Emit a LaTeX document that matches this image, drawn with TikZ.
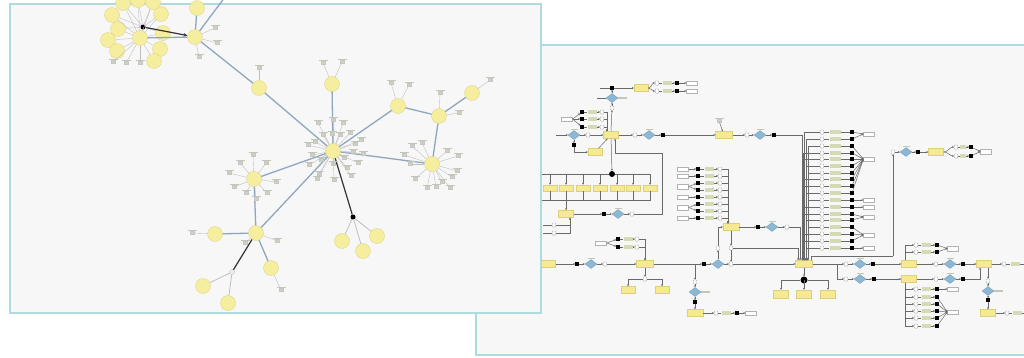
\documentclass[tikz,border=0pt]{standalone}
\usetikzlibrary{shapes.geometric,arrows.meta}
\definecolor{panelbg}{HTML}{F7F7F7}
\definecolor{panelbd}{HTML}{AEDBE0}
\definecolor{ylw}{HTML}{F6EE9F}
\definecolor{ylwr}{HTML}{F5EA92}
\definecolor{ylwd}{HTML}{DDD07A}
\definecolor{edgeb}{HTML}{8EA7BF}
\definecolor{tagc}{HTML}{CDD2BE}
\definecolor{txtc}{HTML}{C3C8B6}
\definecolor{ftagc}{HTML}{D3DBB5}
\definecolor{diac}{HTML}{8DB7D2}
\definecolor{diad}{HTML}{6E9DBD}
\definecolor{flow}{HTML}{6A6A6A}
\begin{document}
\begin{tikzpicture}[x=1pt,y=-1pt,
  panel/.style={fill=panelbg, draw=panelbd, line width=2.4pt},
  ycirc/.style={circle, fill=ylw, draw=ylwd, line width=0.3pt, minimum size=15pt, inner sep=0pt},
  txtbar/.style={rectangle, inner sep=0pt, minimum width=9pt, minimum height=1.2pt, fill=txtc},
  tagn/.style={rectangle, fill=tagc, draw=gray!45, line width=0.2pt, minimum width=4pt, minimum height=3pt, inner sep=0pt, label={[txtbar]above:{}}},
  spoke/.style={draw=gray!50, line width=0.4pt},
  ledge/.style={draw=edgeb, line width=1.3pt},
  dedge/.style={draw=black!80, line width=1.2pt},
  bdotn/.style={circle, fill=black, minimum size=5pt, inner sep=0pt},
  gdotn/.style={circle, fill=gray!15, draw=gray!50, line width=0.3pt, minimum size=5pt, inner sep=0pt},
  yrect/.style={rectangle, fill=ylwr, draw=ylwd, line width=0.4pt, minimum width=15pt, minimum height=7pt, inner sep=0pt},
  dia/.style={diamond, fill=diac, draw=diad, line width=0.3pt, minimum width=12pt, minimum height=9pt, inner sep=0pt},
  dl/.style={label={[txtbar,minimum width=7pt]above:{}}},
  dr/.style={label={[txtbar,minimum width=9pt]right:{}}},
  bsq/.style={rectangle, fill=black, minimum size=3.2pt, inner sep=0pt},
  sc/.style={rectangle, rounded corners=0.8pt, fill=white, draw=gray!70, line width=0.3pt, minimum width=3.6pt, minimum height=4.2pt, inner sep=0pt},
  wrect/.style={rectangle, fill=white, draw=gray!60, line width=0.3pt, minimum width=11pt, minimum height=4.5pt, inner sep=0pt},
  ftag/.style={rectangle, fill=ftagc, minimum width=9pt, minimum height=3.5pt, inner sep=0pt},
  fl/.style={draw=flow, line width=0.5pt, -{Stealth[length=2pt,width=2pt]}},
  fln/.style={draw=flow, line width=0.5pt},
]
\useasboundingbox (0,0) rectangle (1024,357);
\fill[white] (0,0) rectangle (1024,357);

% ================= right panel =================
\draw[panel] (476,45) rectangle (1040,355);

% top line
\coordinate (a0) at (556,135);
\node[dia,dl] (dA) at (574,135) {};
\node[sc] (sA) at (588,135) {};
\node[yrect] (A) at (611,135) {};
\node[sc] (sB) at (635,135) {};
\node[dia,dl] (dB) at (649,135) {};
\node[bsq] (bB) at (663,135) {};
\node[yrect,minimum width=17pt] (B) at (724,135) {};
\node[sc] (sC) at (747,135) {};
\node[dia,dl] (dC) at (760,135) {};
\node[bsq] (bC) at (774,135) {};
\node[yrect,minimum width=17pt] (H) at (804,264) {};
\node[tagn] (tgB) at (719,121) {};
\draw[fl] (a0) -- (dA);
\foreach \p/\q in {dA/sA, sA/A, A/sB, sB/dB, dB/bB, bB/B, B/sC, sC/dC, dC/bC} \draw[fl] (\p) -- (\q);
\draw[fl] (bC) -| ([xshift=-2pt]H.north);
\draw[fl] (tgB) -- (B);

% above A
\node[sc] (sT) at (612,108) {};
\node[dia,dr] (dT) at (612,98) {};
\node[bsq] (bT) at (612,88) {};
\node[yrect,minimum width=14pt] (T) at (641,88) {};
\draw[fl] (A.north) -- (sT);
\draw[fl] (sT) -- (dT);
\draw[fl] (dT) -- (bT);
\draw[fl] (bT) -- (T);
\coordinate (tin) at (600,88);
\coordinate (din) at (597,98);
\draw[fln] (tin) -- (bT);
\draw[fln] (din) -- (dT);
\foreach \k/\y in {1/83,2/91} {
  \node[sc] (sT\k) at (657,\y) {};
  \node[ftag] (fT\k) at (667,\y) {};
  \node[bsq] (bT\k) at (677,\y) {};
  \node[wrect] (wT\k) at (692,\y) {};
  \draw[fl] (T.east) to[out=0,in=180] (sT\k);
  \draw[fln] (sT\k) -- (fT\k);
  \draw[fl] (fT\k) -- (bT\k);
  \draw[fl] (bT\k) -- (wT\k);
}

% left of A
\node[wrect] (wA) at (567,119) {};
\foreach \k/\y in {1/112,2/119,3/127} {
  \node[bsq] (bA\k) at (582,\y) {};
  \node[ftag] (fA\k) at (592,\y) {};
  \node[sc] (sA\k) at (602,\y) {};
  \draw[fl] (wA.east) -- (bA\k);
  \draw[fln] (bA\k) -- (fA\k);
  \draw[fl] (fA\k) -- (sA\k);
  \draw[fl] (sA\k) -| ([xshift=-4pt]A.north);
}
\node[bsq] (bA4) at (574,145) {};
\node[yrect,minimum width=14pt] (Ab) at (595,152) {};
\draw[fl] (dA) -- (bA4);
\draw[fl] (bA4) |- (Ab);
\draw[fl] (Ab) -- (A);

% fork / join table
\node[bdotn,minimum size=6pt] (tdot) at (612,174) {};
\draw[fl] (A) -- (tdot);
\coordinate (jbar) at (566,200);
\coordinate (tl1) at (541,174);
\coordinate (tl2) at (541,200);
\foreach \x [count=\k] in {550,566,583,600,617,633,650} {
  \node[yrect,minimum width=14pt,minimum height=6pt] (tb\k) at (\x,188) {};
  \draw[fl] (tdot) -| (tb\k);
  \draw[fln] (tb\k) |- (jbar);
}
\draw[fln] (tl1) -- (tdot);
\draw[fln] (tl2) -- (jbar);
\node[yrect] (R) at (566,214) {};
\draw[fl] (jbar) -- (R);
\node[bsq] (bR) at (604,214) {};
\node[dia,dl] (dR) at (618,214) {};
\node[sc] (sR) at (632,214) {};
\draw[fl] (R) -- (bR);
\draw[fl] (bR) -- (dR);
\draw[fl] (dR) -- (sR);
\coordinate (k2) at (662,153);
\draw[fln] (sR) -| (k2);
\draw[fl] (k2) -| ([xshift=4pt]A.south);
\node[sc] (sRL1) at (554,225) {};
\node[sc] (sRL2) at (554,233) {};
\coordinate (rl1) at (543,225);
\coordinate (rl2) at (543,233);
\draw[fln] (rl1) -- (sRL1);
\draw[fln] (rl2) -- (sRL2);
\draw[fl] (sRL1) -| ([xshift=4pt]R.south);
\draw[fl] (sRL2) -| ([xshift=4pt]R.south);

% main bottom line
\node[yrect] (L1) at (548,264) {};
\node[bsq] (bL1) at (577,264) {};
\node[dia,dl] (dL1) at (591,264) {};
\node[sc] (sL1) at (605,264) {};
\node[yrect,minimum width=17pt] (L2) at (645,264) {};
\node[bsq] (bL2) at (704,264) {};
\node[dia] (dL2) at (718,264) {};
\node[sc] (sL2) at (731,264) {};
\foreach \p/\q in {L1/bL1, bL1/dL1, dL1/sL1, sL1/L2, L2/bL2, bL2/dL2, dL2/sL2, sL2/H} \draw[fl] (\p) -- (\q);

% above L2
\node[wrect] (wL) at (601,243) {};
\foreach \k/\y in {1/239,2/247} {
  \node[bsq] (bU\k) at (618,\y) {};
  \node[ftag] (fU\k) at (628,\y) {};
  \node[sc] (sU\k) at (637,\y) {};
  \draw[fl] (wL.east) -- (bU\k);
  \draw[fln] (bU\k) -- (fU\k);
  \draw[fl] (fU\k) -- (sU\k);
  \draw[fl] (sU\k) -| (L2.north);
}
% below L2
\node[sc] (sLb) at (645,279) {};
\node[yrect,minimum width=14pt] (Lb1) at (628,290) {};
\node[yrect,minimum width=14pt] (Lb2) at (662,290) {};
\draw[fl] (L2) -- (sLb);
\draw[fl] (sLb) -| (Lb1);
\draw[fl] (sLb) -| (Lb2);

% down branch
\coordinate (jd) at (695,264);
\node[sc] (sD) at (695,282) {};
\node[dia,dr] (dD) at (695,292) {};
\node[bsq] (bD) at (695,302) {};
\node[yrect,minimum width=16pt] (D) at (695,313) {};
\node[sc] (sD2) at (716,313) {};
\node[ftag] (fD) at (726,313) {};
\node[bsq] (bD2) at (737,313) {};
\node[wrect] (wD) at (751,313) {};
\draw[fl] (jd) -- (sD);
\foreach \p/\q in {sD/dD, dD/bD, bD/D, D/sD2, fD/bD2, bD2/wD} \draw[fl] (\p) -- (\q);
\draw[fln] (sD2) -- (fD);

% middle node M
\node[yrect,minimum width=16pt] (M) at (731,227) {};
\foreach \y [count=\k] in {169,176,183,190,197,204,211,218} {
  \node[bsq] (bm\k) at (698,\y) {};
  \node[ftag] (fm\k) at (709,\y) {};
  \node[sc] (sm\k) at (720,\y) {};
  \draw[fln] (bm\k) -- (fm\k);
  \draw[fl] (fm\k) -- (sm\k);
  \draw[fl] (sm\k) -| ([xshift=-3pt]M.north);
}
\foreach \n/\y in {1/169,2/176,3/186.5,4/197,5/207.5,6/218} \node[wrect] (wm\n) at (683,\y) {};
\foreach \k/\n in {1/1,2/2,3/3,4/3,5/4,6/5,7/5,8/6} \draw[fl] (wm\n.east) -- (bm\k);
\node[bsq] (bM) at (758,227) {};
\node[dia,dl] (dM) at (772,227) {};
\node[sc] (sM) at (787,227) {};
\draw[fl] (M) -- (bM);
\draw[fl] (bM) -- (dM);
\draw[fl] (dM) -- (sM);
\draw[fl] (sM) -| ([xshift=-4pt]H.north);
\node[sc] (sMd) at (731,248) {};
\draw[fl] (M) -- (sMd);
\draw[fl] (sMd) -- (sL2);
\draw[fl] (sMd) -| ([xshift=-6pt]H.north);
\node[sc] (sMl) at (718,248) {};
\draw[fl] (dL2) -- (sMl);
\draw[fl] (sMl) |- (M.west);

% hub bottom
\node[bdotn,minimum size=7pt] (hdot) at (804,280) {};
\draw[fl] (H) -- (hdot);
\foreach \x [count=\k] in {781,804,828} {
  \node[yrect,minimum width=15pt,minimum height=8pt] (hb\k) at (\x,294) {};
  \draw[fl] (hdot) -| (hb\k);
}

% bundle rows
\foreach \y [count=\i] in {132,139,146,153,159,166,173,179,186,193,200,207,214,220,227,234,241,248} {
  \pgfmathsetmacro\dx{mod(\i,4)*1.6-1.0}
  \node[sc] (bs\i) at (822,\y) {};
  \node[ftag,minimum width=11pt] (bt\i) at (835,\y) {};
  \node[bsq] (bb\i) at (852,\y) {};
  \draw[fl] (bs\i) -| ([xshift=\dx pt]H.north);
  \draw[fln] (bs\i) -- (bt\i);
  \draw[fln] (bt\i) -- (bb\i);
}
\foreach \n/\y in {1/134,2/159,3/200,4/207,5/217,6/235,7/248} \node[wrect] (bw\n) at (869,\y) {};
\foreach \i/\n in {1/1,2/1,3/2,4/2,5/2,6/2,7/2,8/2,9/2,10/2,11/3,12/4,13/5,14/5,15/6,16/6,17/6,18/7} \draw[fl] (bb\i) -- (bw\n.west);

% hub right, upper line
\node[sc] (sR1) at (846,264) {};
\node[dia,dl] (dR1) at (860,264) {};
\node[bsq] (bR1) at (873,264) {};
\node[yrect] (R1) at (909,264) {};
\node[sc] (sR2) at (936,264) {};
\node[dia,dl] (dR2) at (950,264) {};
\node[bsq] (bR2) at (963,264) {};
\node[yrect] (R2) at (984,264) {};
\node[sc] (sR3) at (1004,264) {};
\node[ftag] (fR3) at (1015,264) {};
\coordinate (rEnd) at (1030,264);
\foreach \p/\q in {H/sR1, sR1/dR1, dR1/bR1, bR1/R1, R1/sR2, sR2/dR2, dR2/bR2, bR2/R2, R2/sR3, fR3/rEnd} \draw[fl] (\p) -- (\q);
\draw[fln] (sR3) -- (fR3);

% hub right, lower line
\coordinate (j1) at (837,264);
\node[sc] (sQ1) at (846,279) {};
\node[dia,dl] (dQ1) at (860,279) {};
\node[bsq] (bQ1) at (874,279) {};
\node[yrect] (Q1) at (909,279) {};
\node[sc] (sQ2) at (936,279) {};
\node[dia,dl] (dQ2) at (950,279) {};
\node[bsq] (bQ2) at (963,279) {};
\draw[fl] (j1) |- (sQ1);
\foreach \p/\q in {sQ1/dQ1, dQ1/bQ1, bQ1/Q1, Q1/sQ2, sQ2/dQ2, dQ2/bQ2} \draw[fl] (\p) -- (\q);
\draw[fl] (bQ2) -| ([xshift=-4pt]R2.south);

% above R1
\node[wrect] (wP) at (953,248.5) {};
\foreach \k/\y in {1/245,2/252} {
  \node[sc] (sP\k) at (916,\y) {};
  \node[ftag] (fP\k) at (926,\y) {};
  \node[bsq] (bP\k) at (937,\y) {};
  \draw[fl] ([xshift=-4pt]R1.north) |- (sP\k);
  \draw[fln] (sP\k) -- (fP\k);
  \draw[fl] (fP\k) -- (bP\k);
  \draw[fl] (bP\k) -- (wP.west);
}
% below Q1
\node[wrect] (wG1) at (953,289) {};
\node[wrect] (wG2) at (953,312) {};
\foreach \y [count=\k] in {289,297,304,311,318,326} {
  \node[sc] (sG\k) at (916,\y) {};
  \node[ftag] (fG\k) at (926,\y) {};
  \node[bsq] (bG\k) at (937,\y) {};
  \draw[fl] ([xshift=-4pt]Q1.south) |- (sG\k);
  \draw[fln] (sG\k) -- (fG\k);
  \draw[fl] (fG\k) -- (bG\k);
}
\draw[fl] (bG1) -- (wG1.west);
\foreach \k in {2,...,6} \draw[fl] (bG\k) -- (wG2.west);

% below R2
\node[sc] (sV) at (988,281) {};
\node[dia,dr] (dV) at (988,291) {};
\node[bsq] (bV) at (988,300) {};
\node[yrect] (V) at (988,313) {};
\node[sc] (sV2) at (1007,313) {};
\node[ftag] (fV2) at (1017,313) {};
\coordinate (vEnd) at (1030,313);
\draw[fl] ([xshift=4pt]R2.south) -- (sV);
\foreach \p/\q in {sV/dV, dV/bV, bV/V, V/sV2, fV2/vEnd} \draw[fl] (\p) -- (\q);
\draw[fln] (sV2) -- (fV2);

% top-right branch
\coordinate (jt) at (893,256);
\node[sc] (sTR) at (893,152) {};
\node[dia,dl] (dTR) at (906,152) {};
\node[bsq] (bTR) at (918,152) {};
\node[yrect] (TR) at (936,152) {};
\node[wrect] (wTR) at (986,151.5) {};
\draw[fln] ([xshift=7pt]H.north) |- (jt);
\draw[fl] (jt) -- (sTR);
\foreach \p/\q in {sTR/dTR, dTR/bTR, bTR/TR} \draw[fl] (\p) -- (\q);
\foreach \k/\y in {1/147,2/156} {
  \node[sc] (sTR\k) at (956,\y) {};
  \node[ftag,minimum width=6pt] (fTR\k) at (963,\y) {};
  \node[bsq] (bTR\k) at (971,\y) {};
  \draw[fl] (TR.east) to[out=0,in=180] (sTR\k);
  \draw[fln] (sTR\k) -- (fTR\k);
  \draw[fl] (fTR\k) -- (bTR\k);
  \draw[fl] (bTR\k) -- (wTR.west);
}

% ================= left panel =================
\draw[panel] (10,4) rectangle (541,313);

\node[ycirc] (hub) at (333,151) {};
\node[ycirc] (n0) at (197,8) {};
\node[ycirc] (n1) at (195,37) {};
\node[ycirc] (n2) at (259,88) {};
\node[ycirc] (n3) at (332,84) {};
\node[ycirc] (n4) at (398,106) {};
\node[ycirc] (n5) at (439,116) {};
\node[ycirc] (n6) at (472,93) {};
\node[ycirc] (n7) at (432,164) {};
\node[ycirc] (n8) at (254,179) {};
\node[ycirc] (n9) at (256,233) {};
\node[ycirc] (n10) at (215,234) {};
\node[ycirc] (n11) at (271,268) {};
\node[gdotn] (gd) at (232,272) {};
\node[ycirc] (n12) at (203,286) {};
\node[ycirc] (n13) at (228,303) {};
\node[bdotn] (bd) at (353,217) {};
\node[ycirc] (n14) at (342,241) {};
\node[ycirc] (n15) at (363,251) {};
\node[ycirc] (n16) at (377,236) {};

% cluster
\foreach \x/\y [count=\k] in {112/15,118/29,108/40,117/51,161/14,163/33,160/49,154/61,123/3,153/2,138/0} \node[ycirc] (cl\k) at (\x,\y) {};
\node[ycirc] (cc) at (140,38) {};
\node[bdotn] (cd) at (143,27) {};
\foreach \k in {1,...,11} \draw[spoke] (cc) -- (cl\k);
\foreach \k in {1,2,5,6,9,10,11} \draw[spoke] (cd) -- (cl\k);
\draw[spoke] (cd) -- (cc);
\foreach \x/\y [count=\k] in {113/62,126/63,140/63} {
  \node[tagn] (ct\k) at (\x,\y) {};
  \draw[spoke] (cc) -- (ct\k);
}
\draw[ledge] (cc) -- (n1);
\draw[dedge,-{Stealth[length=4pt,width=3.5pt]}] (cd) -- (n1);
\draw[ledge] (n1) -- (n0);
\coordinate (ntop) at (225,-3);
\draw[ledge] (n1) -- (ntop);

% main edges
\foreach \p/\q in {n1/n2, n2/hub, hub/n3, hub/n4, n4/n5, n5/n6, n5/n7, hub/n7, hub/n8, hub/n9, n8/n9, n9/n10, n9/n11} \draw[ledge] (\p) -- (\q);
\draw[dedge] (n9) -- (gd);
\draw[dedge] (hub) -- (bd);
\foreach \q in {n12,n13} \draw[spoke,line width=0.8pt] (gd) -- (\q);
\foreach \q in {n14,n15,n16} \draw[spoke,line width=0.8pt] (bd) -- (\q);

% label tags
\foreach \dx/\dy [count=\k] in {-15/-28,0/-31,10/-28,17/-18,-1/-17,7/-16,-10/-16,-25/-6,-18/-9,22/-7,28/-11,20/1,11/7,-12/9,-21/4,0/13,14/17,25/12,-24/14,-14/23,1/29,-16/28,18/25,30/3} {
  \node[tagn] (ht\k) at ([shift={(\dx,\dy)}]hub) {};
  \draw[spoke] (hub) -- (ht\k);
}
\foreach \dx/\dy [count=\k] in {-20/-18,-10/-21,15/-13,26/-8,25/7,20/13,10/18,-5/24,-17/15,18/24,4/23,-22/0,-28/-9} {
  \node[tagn] (t7\k) at ([shift={(\dx,\dy)}]n7) {};
  \draw[spoke] (n7) -- (t7\k);
}
\foreach \dx/\dy [count=\k] in {-14/-16,-1/-24,12/-16,22/3,13/14,-8/14,-20/8,-25/-6,2/20} {
  \node[tagn] (t8\k) at ([shift={(\dx,\dy)}]n8) {};
  \draw[spoke] (n8) -- (t8\k);
}
\foreach \n/\dx/\dy [count=\k] in {n9/-11/10, n9/21/8, n1/20/-9, n1/22/6, n1/4/20, n2/0/-20, n3/-9/-21, n3/10/-22, n4/-7/-23, n4/11/-21, n5/1/-23, n5/20/-3, n6/18/-13, n10/-23/-1, n11/10/22} {
  \node[tagn] (tx\k) at ([shift={(\dx,\dy)}]\n) {};
  \draw[spoke] (\n) -- (tx\k);
}
\end{tikzpicture}
\end{document}
